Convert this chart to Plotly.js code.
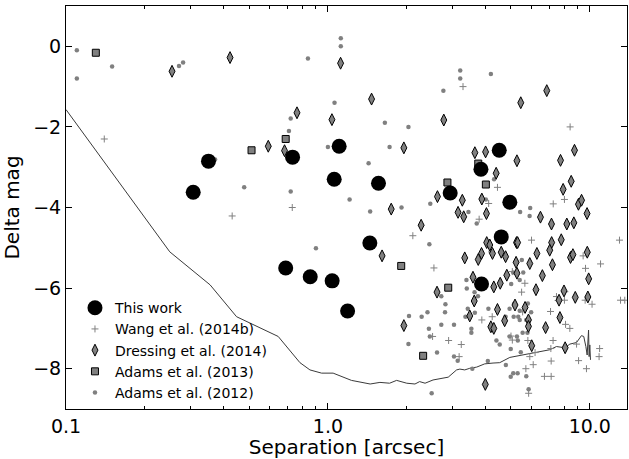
<!DOCTYPE html>
<html>
<head>
<meta charset="utf-8">
<script src="https://cdn.plot.ly/plotly-3.0.1.min.js"></script>
<style>html,body{margin:0;padding:0;background:#fff;}#chart{width:629px;height:459px;}</style>
</head>
<body>
<div id="chart"></div>
<script>
// This work
const thisWorkSep = [0.306, 0.350, 0.733, 1.104, 1.057, 1.56, 0.690, 0.856, 1.038, 1.446, 1.189, 2.93, 3.84, 4.51, 4.95, 4.59, 3.86];
const thisWorkDmag = [-3.62, -2.85, -2.75, -2.48, -3.30, -3.40, -5.50, -5.72, -5.82, -4.88, -6.57, -3.64, -3.05, -2.58, -3.87, -4.73, -5.90];

// Wang et al. (2014b)
const wangSep = [0.140, 0.431, 0.731, 3.28, 8.41, 4.44, 4.11, 3.78, 8.00, 7.25, 2.11, 2.54, 3.87, 4.24, 2.89, 3.23, 2.51, 3.17,
  5.00, 5.06, 5.06, 5.99, 5.65, 5.49, 5.80, 6.18, 5.90, 6.08, 5.70, 5.84, 6.71, 7.12, 7.12, 7.24, 7.08, 7.46, 7.57,
  8.08, 8.39, 8.90, 9.06, 9.71, 10.9, 10.85, 9.63, 9.43, 10.99, 12.98, 13.1, 13.6, 10.2, 9.60, 8.03, 8.00, 5.54, 7.10];
const wangDmag = [-2.30, -4.21, -4.00, -1.00, -2.00, -3.50, -3.90, -4.29, -3.80, -3.91, -4.70, -5.50, -6.79, -6.71, -7.30, -7.40, -7.20, -7.70,
  -7.19, -7.29, -5.59, -4.81, -5.88, -6.10, -7.30, -7.60, -7.70, -7.90, -8.00, -8.61, -8.19, -8.19, -7.81, -7.30, -6.58, -6.21, -6.31,
  -6.90, -7.00, -7.39, -7.80, -8.00, -7.50, -7.70, -5.51, -5.20, -5.40, -4.81, -6.30, -6.30, -6.40, -6.30, -6.09, -6.30, -6.59, -7.50];

// Dressing et al. (2014)
const dressingSep = [0.254, 0.423, 0.762, 0.592, 0.683, 1.118, 1.468, 1.036, 1.95, 1.745, 1.61, 1.95, 2.77, 5.45, 6.85,
  3.64, 4.00, 5.27, 7.73, 8.74, 4.39, 8.49, 7.91, 9.05, 9.30, 9.76, 2.62, 3.26, 3.87, 3.14, 3.30, 4.03, 2.27,
  6.48, 7.14, 8.17, 8.69, 4.04, 4.15, 3.86, 3.75, 3.33, 4.25, 4.59, 4.77, 5.23, 5.25, 5.30, 3.58, 4.30, 4.55,
  4.82, 5.27, 2.61, 3.62, 3.48, 4.44, 5.18, 4.73, 4.19, 4.30, 3.99, 7.15, 7.78, 6.28, 7.03, 8.44, 8.62, 9.78,
  5.90, 7.20, 6.59, 9.90, 6.23, 7.97, 7.63, 8.80, 9.83, 5.66, 7.69, 5.83, 5.83, 6.78, 6.00, 8.05];
const dressingDmag = [-0.62, -0.28, -1.65, -2.48, -2.59, -0.42, -1.31, -1.82, -2.52, -4.04, -5.20, -6.93, -1.83, -1.40, -1.10,
  -2.64, -2.62, -2.84, -2.83, -2.58, -3.15, -3.35, -3.55, -3.92, -3.82, -4.15, -3.73, -3.82, -3.79, -4.12, -4.23, -4.15, -4.44,
  -4.24, -4.41, -4.41, -4.38, -4.87, -4.93, -5.14, -5.29, -5.25, -5.14, -5.11, -5.22, -5.36, -4.87, -4.87, -5.73, -5.97, -5.88,
  -5.68, -5.63, -6.10, -6.32, -6.69, -6.53, -6.42, -6.81, -6.96, -7.00, -8.39, -4.87, -4.80, -5.14, -5.06, -5.24, -5.17, -5.11,
  -5.39, -5.42, -5.69, -5.77, -6.04, -6.07, -6.30, -6.23, -6.22, -6.48, -6.73, -6.79, -6.95, -6.98, -7.43, -7.48];

// Adams et al. (2013)
const adams13Sep = [0.130, 0.511, 0.690, 1.905, 2.86, 3.75, 4.01, 2.88, 2.31];
const adams13Dmag = [-0.16, -2.58, -2.30, -5.45, -3.38, -2.91, -3.43, -5.99, -7.68];

// Adams et al. (2012)
const adams12Sep = [0.110, 0.110, 0.150, 0.270, 0.280, 0.839, 0.721, 0.710, 0.371, 0.479, 0.721, 0.90, 1.12, 1.12, 1.06,
  1.65, 2.03, 1.00, 1.72, 1.43, 1.21, 1.45, 1.91, 2.04, 2.03, 3.20, 3.20, 4.19, 2.76, 2.46, 3.44, 3.70, 4.31, 5.42,
  5.92, 5.89, 4.01, 2.44, 4.18, 3.38, 3.39, 3.63, 3.74, 2.71, 2.81, 2.40, 2.80, 2.28, 3.42, 3.35, 3.64, 4.10, 4.94,
  4.77, 5.12, 3.03, 2.71, 2.43, 3.53, 3.53, 2.45, 3.03, 3.13, 2.61, 3.56, 4.08, 4.40, 4.53, 4.99, 4.78, 4.99, 5.10,
  2.49, 4.94, 5.33, 5.40, 5.10, 5.14, 5.40, 5.40, 5.27, 5.45, 5.30, 5.72, 5.84, 5.57, 5.50, 5.01, 5.80, 5.97, 5.72,
  5.54, 5.78, 5.31];
const adams12Dmag = [-0.10, -0.80, -0.50, -0.49, -0.40, -0.30, -1.79, -2.10, -2.81, -3.50, -3.60, -5.01, 0.20, 0.00, -1.40,
  -1.90, -2.00, -2.50, -2.50, -2.90, -3.80, -4.10, -4.00, -6.69, -7.39, -0.60, -0.80, -0.69, -1.10, -3.91, -4.11, -4.40, -3.30, -4.11,
  -4.01, -4.21, -3.80, -4.91, -5.10, -5.80, -6.01, -6.10, -6.20, -6.20, -6.40, -6.60, -6.60, -6.71, -6.51, -6.71, -6.61, -6.51, -6.51,
  -6.71, -6.71, -6.91, -6.91, -7.01, -7.01, -7.11, -7.20, -7.70, -7.80, -7.60, -8.00, -7.81, -7.30, -7.40, -7.51, -7.91, -8.20, -8.11,
  -8.61, -7.20, -6.71, -5.80, -5.61, -6.39, -6.56, -6.79, -7.20, -7.59, -8.11, -8.19, -8.51, -5.61, -5.30, -5.90, -6.38, -6.60, -6.79,
  -7.11, -7.11, -7.30];

// Detection limit curve
const limitSep = [0.1, 0.249, 0.355, 0.448, 0.646, 0.782, 0.854, 0.946, 1.047, 1.23, 1.45, 1.58, 1.72, 1.83, 2.00, 2.15, 2.24,
  2.35, 2.52, 2.88, 3.10, 3.19, 3.33, 3.48, 3.70, 3.97, 4.27, 4.53, 4.95, 5.56, 6.26, 7.03, 7.46, 8.03, 8.39, 8.90, 9.29,
  9.48, 9.66, 9.77, 9.89, 9.94, 10.0, 10.06];
const limitDmag = [-1.57, -5.10, -5.92, -6.71, -7.20, -7.85, -8.03, -8.11, -8.11, -8.29, -8.38, -8.34, -8.36, -8.29, -8.36, -8.38, -8.32,
  -8.36, -8.28, -8.21, -8.03, -8.01, -8.03, -7.99, -7.96, -7.88, -7.86, -7.85, -7.72, -7.66, -7.58, -7.53, -7.45, -7.48, -7.39, -7.35, -7.18,
  -7.20, -7.45, -7.66, -7.04, -7.70, -7.41, -7.78];

const xTickVals = [0.1, 1, 10];
const xTickText = ['0.1', '1.0', '10.0'];
const xMinorVals = [0.2, 0.3, 0.4, 0.5, 0.6, 0.7, 0.8, 0.9, 2, 3, 4, 5, 6, 7, 8, 9];
const yTickVals = [-8, -6, -4, -2, 0];

const gray = '#808080';
const traces = [
  {x: limitSep, y: limitDmag, mode: 'lines', line: {color: '#3a3a3a', width: 1}, showlegend: false, hoverinfo: 'skip'},
  {x: adams12Sep, y: adams12Dmag, mode: 'markers', name: 'Adams et al. (2012)', legendrank: 5,
   marker: {symbol: 'circle', size: 4.5, color: gray, line: {width: 0}}},
  {x: wangSep, y: wangDmag, mode: 'markers', name: 'Wang et al. (2014b)', legendrank: 2,
   marker: {symbol: 'cross-thin', size: 5, color: gray, line: {color: gray, width: 1}}},
  {x: adams13Sep, y: adams13Dmag, mode: 'markers', name: 'Adams et al. (2013)', legendrank: 4,
   marker: {symbol: 'square', size: 7, color: gray, line: {color: '#000', width: 1}}},
  {x: dressingSep, y: dressingDmag, mode: 'markers', name: 'Dressing et al. (2014)', legendrank: 3,
   marker: {symbol: 'diamond-tall', size: 8.5, color: gray, line: {color: '#000', width: 1}}},
  {x: thisWorkSep, y: thisWorkDmag, mode: 'markers', name: 'This work', legendrank: 1,
   marker: {symbol: 'circle', size: 15, color: '#000', line: {width: 0}}}
];

const axisCommon = {
  showline: true, linecolor: '#000', linewidth: 1, mirror: 'allticks',
  ticks: 'inside', ticklen: 6, tickwidth: 1, tickcolor: '#000',
  showgrid: false, zeroline: false,
  tickfont: {family: 'DejaVu Sans', size: 19, color: '#000'}
};

const layout = {
  width: 629, height: 459,
  margin: {l: 66, r: 2, t: 6, b: 50},
  paper_bgcolor: '#fff', plot_bgcolor: '#fff',
  font: {family: 'DejaVu Sans', color: '#000'},
  xaxis: Object.assign({}, axisCommon, {
    type: 'log', range: [-1, 1.142],
    tickmode: 'array', tickvals: xTickVals, ticktext: xTickText,
    minor: {tickmode: 'array', tickvals: xMinorVals, ticks: 'inside', ticklen: 3, tickcolor: '#000', showgrid: false},
    title: {text: 'Separation [arcsec]', font: {family: 'DejaVu Sans', size: 20, color: '#000'}, standoff: 8}
  }),
  yaxis: Object.assign({}, axisCommon, {
    range: [-9, 1],
    tickmode: 'array', tickvals: yTickVals,
    title: {text: 'Delta mag', font: {family: 'DejaVu Sans', size: 20, color: '#000'}, standoff: 8}
  }),
  showlegend: true,
  legend: {
    x: 0.016, y: 0.29, xanchor: 'left', yanchor: 'top',
    bgcolor: 'rgba(0,0,0,0)', borderwidth: 0,
    font: {family: 'DejaVu Sans', size: 14, color: '#000'},
    traceorder: 'normal'
  }
};

Plotly.newPlot('chart', traces, layout, {displayModeBar: false, staticPlot: true});
</script>
</body>
</html>
